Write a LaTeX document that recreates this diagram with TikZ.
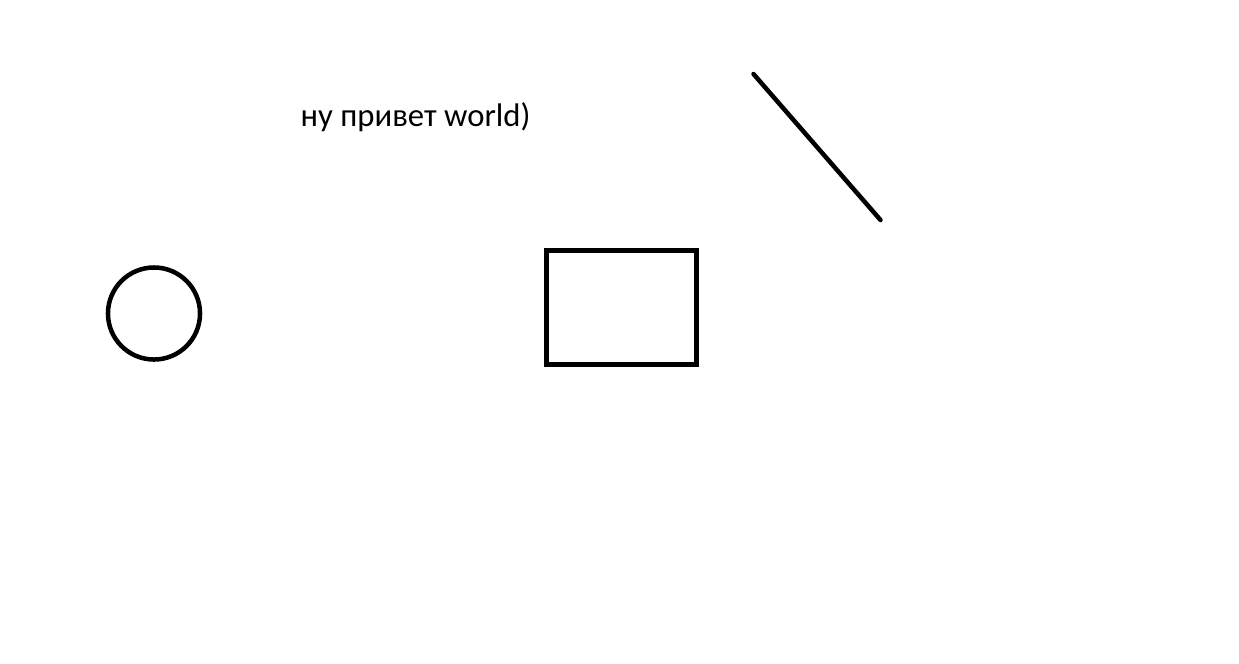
\documentclass[tikz,border=0pt]{standalone}
\usepackage{fontspec}
\setmainfont{Carlito}
\usepackage{tikz}
\usetikzlibrary{positioning}

\begin{document}
\begin{tikzpicture}[
  x=0.01cm, y=-0.01cm,
  ring/.style={circle, draw, line width=0.045cm, minimum size=0.92cm, inner sep=0pt},
  shapebox/.style={rectangle, draw, line width=0.05cm, minimum width=1.5cm,
               minimum height=1.14cm, inner sep=0pt},
  hello/.style={font=\fontsize{9.3pt}{11pt}\selectfont, anchor=base west, inner sep=0pt},
  stroke/.style={line width=0.045cm, line cap=round},
]

% === Canvas ===
\useasboundingbox (0,0) rectangle (1239,663);

% === Greeting ===
\node[hello] (greeting) at (300,126) {ну привет world)};

% === Shapes ===
\node[ring] (circ) at (154,313.5) {};
\node[shapebox] (box) at (621.5,307.5) {};

% === Slanted line ===
\coordinate (top) at (753.5,74);
\coordinate (bottom) at (880.5,220);
\draw[stroke] (top) -- (bottom);

\end{tikzpicture}
\end{document}
